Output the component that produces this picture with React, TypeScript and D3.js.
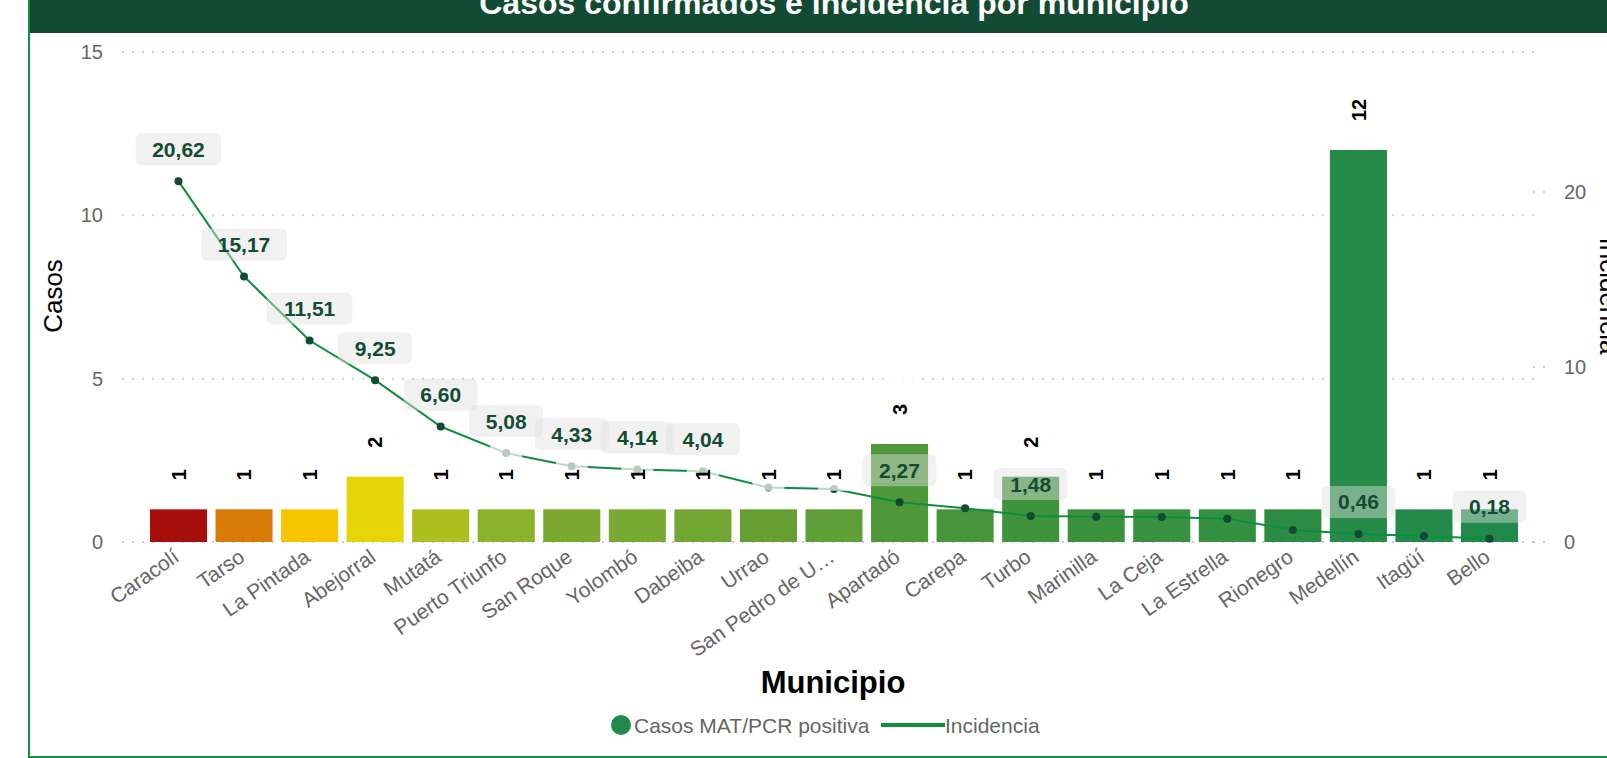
import React from "react";
import * as d3 from "d3";

const municipios = [
  "Caracolí", "Tarso", "La Pintada", "Abejorral", "Mutatá", "Puerto Triunfo",
  "San Roque", "Yolombó", "Dabeiba", "Urrao", "San Pedro de U…", "Apartadó",
  "Carepa", "Turbo", "Marinilla", "La Ceja", "La Estrella", "Rionegro",
  "Medellín", "Itagüí", "Bello",
];
const casos = [1, 1, 1, 2, 1, 1, 1, 1, 1, 1, 1, 3, 1, 2, 1, 1, 1, 1, 12, 1, 1];
const incidencia = [
  20.62, 15.17, 11.51, 9.25, 6.6, 5.08, 4.33, 4.14, 4.04, 3.11, 3.03, 2.27,
  1.93, 1.48, 1.45, 1.43, 1.33, 0.69, 0.46, 0.34, 0.18,
];
const etiquetaVisible = [
  true, true, true, true, true, true, true, true, true, false, false, true,
  false, true, false, false, false, false, true, false, true,
];
const barColors = [
  "#a60f0b", "#d87a06", "#f6c500", "#e5d408", "#adbe1f", "#8ab12a", "#7ba92f",
  "#78a930", "#73a733", "#66a035", "#609e37", "#4e983a", "#48963b", "#40933d",
  "#3b913e", "#389040", "#358f41", "#2d8c44", "#268a48", "#248a49", "#20894b",
];
const leftTicks = [0, 5, 10, 15];
const rightTicks = [0, 10, 20];

const FONT = "'Liberation Sans', Arial, Helvetica, sans-serif";

export default function App() {
  const W = 1607;
  const H = 758;
  const x = d3
    .scaleBand<string>()
    .domain(municipios)
    .range([145.7, 1522.3])
    .paddingInner(0.13)
    .paddingOuter(0.065);
  const yL = d3.scaleLinear().domain([0, 15]).range([542, 52]);
  const yR = d3.scaleLinear().domain([0, 28]).range([542, 52]);
  const cx = (m: string) => (x(m) as number) + x.bandwidth() / 2;

  const line = d3
    .line<number>()
    .x((_, i) => cx(municipios[i]))
    .y((d) => yR(d));

  const fmt = (v: number) => v.toFixed(2).replace(".", ",");

  return (
    <svg
      width={W}
      height={H}
      style={{ position: "absolute", left: 0, top: 0, fontFamily: FONT }}
    >
      <rect x={0} y={0} width={W} height={H} fill="#fff" />
      {/* header */}
      <rect x={29} y={0} width={W - 29} height={33} fill="#134a33" />
      <text
        x={834}
        y={14}
        textAnchor="middle"
        fill="#fff"
        fontWeight="bold"
        fontSize={32}
      >
        Casos confirmados e incidencia por municipio
      </text>
      {/* frame */}
      <line x1={29} y1={0} x2={29} y2={H} stroke="#138f45" strokeWidth={2} />
      <line x1={29} y1={757} x2={W} y2={757} stroke="#138f45" strokeWidth={2} />

      {/* gridlines left */}
      {leftTicks.map((t) => (
        <g key={"gl" + t}>
          <line
            x1={122}
            x2={1535}
            y1={yL(t)}
            y2={yL(t)}
            stroke="#cfcfcf"
            strokeWidth={2}
            strokeDasharray="2,8"
          />
          <text
            x={103}
            y={yL(t) + 7}
            textAnchor="end"
            fontSize={20}
            fill="#666"
          >
            {t}
          </text>
        </g>
      ))}
      {rightTicks.map((t) => (
        <g key={"gr" + t}>
          <line
            x1={1533}
            x2={1548}
            y1={yR(t)}
            y2={yR(t)}
            stroke="#cfcfcf"
            strokeWidth={2}
            strokeDasharray="2,8"
          />
          <text x={1564} y={yR(t) + 7} fontSize={20} fill="#666">
            {t}
          </text>
        </g>
      ))}

      {/* axis titles */}
      <text
        transform="translate(62,296) rotate(-90)"
        textAnchor="middle"
        fontSize={26}
        fill="#000"
      >
        Casos
      </text>
      <text
        transform="translate(1600,296) rotate(90)"
        textAnchor="middle"
        fontSize={26}
        fill="#000"
      >
        Incidencia
      </text>

      {/* bars */}
      {municipios.map((m, i) => (
        <rect
          key={"b" + m}
          x={x(m)}
          y={yL(casos[i])}
          width={x.bandwidth()}
          height={yL(0) - yL(casos[i])}
          fill={barColors[i]}
        />
      ))}

      {/* x labels */}
      {municipios.map((m) => (
        <text
          key={"xl" + m}
          transform={`translate(${cx(m) + 2},560) rotate(-35)`}
          textAnchor="end"
          fontSize={21}
          fill="#666"
        >
          {m}
        </text>
      ))}

      {/* incidence line */}
      <path
        d={line(incidencia) || ""}
        fill="none"
        stroke="#0b8f3d"
        strokeWidth={2}
      />
      {incidencia.map((v, i) => (
        <circle
          key={"p" + i}
          cx={cx(municipios[i])}
          cy={yR(v)}
          r={4}
          fill="#124a33"
        />
      ))}

      {/* bar label backgrounds */}
      {municipios.map((m, i) => {
        const len = String(casos[i]).length * 11;
        const c = yL(casos[i]) - 29 - len / 2;
        return (
          <rect
            key={"bb" + m}
            x={cx(m) - 16}
            y={c - 36}
            width={32}
            height={52}
            fill="#fff"
            opacity={0.7}
          />
        );
      })}
      {/* bar labels */}
      {municipios.map((m, i) => (
        <text
          key={"bl" + m}
          transform={`translate(${cx(m)},${yL(casos[i]) - 29}) rotate(-90)`}
          dy="0.36em"
          fontSize={20}
          fontWeight="bold"
          fill="#000"
        >
          {casos[i]}
        </text>
      ))}

      {/* incidence labels */}
      {incidencia.map((v, i) => {
        if (!etiquetaVisible[i]) return null;
        const s = fmt(v);
        const digits = s.replace(",", "").length;
        const w = digits * 11.7 + 5.8 + 33;
        const px = cx(municipios[i]);
        const py = yR(v);
        return (
          <g key={"il" + i}>
            <rect
              x={px - w / 2}
              y={py - 48}
              width={w}
              height={32}
              rx={6}
              fill="rgb(225,225,225)"
              fillOpacity={0.45}
            />
            <text
              x={px}
              y={py - 32 + 7.5}
              textAnchor="middle"
              fontSize={21}
              fontWeight="bold"
              fill="#134b33"
            >
              {s}
            </text>
          </g>
        );
      })}

      {/* x axis title */}
      <text
        x={833}
        y={693}
        textAnchor="middle"
        fontSize={31}
        fontWeight="bold"
        fill="#000"
      >
        Municipio
      </text>

      {/* legend */}
      <circle cx={621} cy={725} r={10} fill="#20894b" />
      <text x={634} y={733} fontSize={21} fill="#666">
        Casos MAT/PCR positiva
      </text>
      <line
        x1={881}
        x2={945}
        y1={725}
        y2={725}
        stroke="#0b8f3d"
        strokeWidth={4}
      />
      <text x={945} y={733} fontSize={21} fill="#666">
        Incidencia
      </text>
    </svg>
  );
}
